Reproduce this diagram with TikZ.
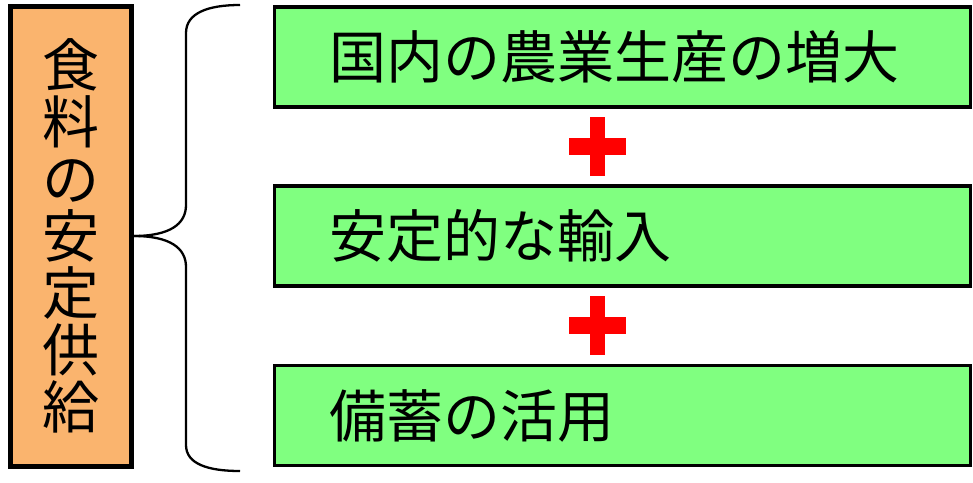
\documentclass[tikz,border=0pt]{standalone}
\usepackage{fontspec}
\newfontfamily\jpfont{Noto Sans CJK JP}
\definecolor{supplyorange}{HTML}{FAB46E}
\definecolor{meansgreen}{HTML}{80FF80}
\tikzset{
  goal/.style={draw, line width=5pt, fill=supplyorange, minimum width=121pt,
    minimum height=460pt, align=center, inner sep=0pt,
    font=\jpfont\fontsize{57pt}{57pt}\selectfont},
  means/.style={draw, line width=3.5pt, fill=meansgreen, text width=586pt,
    inner xsep=55pt, inner ysep=0pt, minimum height=100pt, align=left,
    font=\jpfont\fontsize{57pt}{57pt}\selectfont},
  brace/.style={line width=2.3pt},
}
\begin{document}
\begin{tikzpicture}[x=1pt, y=-1pt]
    \useasboundingbox (0, 0) rectangle (973, 482);
    \node[goal] (food) at (70.5, 236) {食\\料\\の\\安\\定\\供\\給};
    \node[means] (farm) at (622.25, 57) {国内の農業生産の増大};
    \node[means] (import) at (622.25, 236) {安定的な輸入};
    \node[means] (stock) at (622.25, 415.5) {備蓄の活用};
    \coordinate (plusa) at (597.5, 146.5);
    \coordinate (plusb) at (597.5, 325.5);
    \foreach \p in {plusa, plusb} {
      \fill[red] ([shift={(-28.5, -8.5)}]\p) rectangle ([shift={(28.5, 8.5)}]\p);
      \fill[red] ([shift={(-7.5, -29.5)}]\p) rectangle ([shift={(7.5, 29.5)}]\p);
    }
    \coordinate (bracetop) at (240, 5);
    \coordinate (bracebot) at (240, 471);
    \draw[brace] (food.east) .. controls (170, 236) and (186, 224) .. (186, 205)
      -- (186, 33) .. controls (186, 13) and (208, 5) .. (bracetop);
    \draw[brace] (food.east) .. controls (170, 236) and (186, 248) .. (186, 267)
      -- (186, 445) .. controls (186, 464) and (208, 471) .. (bracebot);
  \end{tikzpicture}
\end{document}
